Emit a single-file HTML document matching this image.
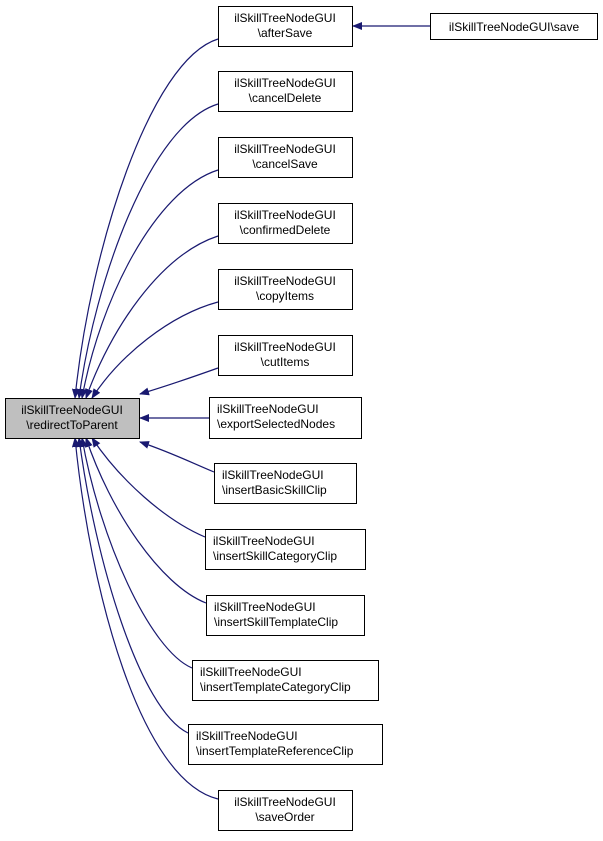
<!DOCTYPE html>
<html><head><meta charset="utf-8"><style>
html,body{margin:0;padding:0;background:#fff;}
svg text{font-family:"Liberation Sans",sans-serif;font-size:12px;fill:#000;}
</style></head><body>
<svg width="603" height="836" viewBox="0 0 603 836" xmlns="http://www.w3.org/2000/svg">
<defs>
<marker id="a" markerWidth="10" markerHeight="8" refX="9" refY="4" orient="auto" markerUnits="userSpaceOnUse">
<path d="M0,0 L10,4 L0,8 Z" fill="#191970"/></marker>
</defs>
<g fill="none" stroke="#191970" stroke-width="1.2" marker-end="url(#a)">
<path d="M430,26 L353,26"/>
<path d="M218,39 C150,60 90,250 75,398"/>
<path d="M218,104 C150,125 95,280 79,398"/>
<path d="M218,170 C155,190 100,300 82,398"/>
<path d="M218,236 C160,255 110,330 86,398"/>
<path d="M218,302 C170,315 120,355 92,398"/>
<path d="M218,368 C190,378 170,385 140,394"/>
<path d="M209,418 L140,418"/>
<path d="M214,472 C190,462 170,452 140,442"/>
<path d="M205,537 C165,520 120,480 92,438"/>
<path d="M206,603 C160,585 110,510 86,438"/>
<path d="M192,668 C150,650 100,540 82,438"/>
<path d="M188,733 C140,710 95,560 79,438"/>
<path d="M218,799 C140,780 90,590 75,438"/>
</g>
<g stroke="#000" stroke-width="1" fill="#fff">
<rect x="5.5" y="398.5" width="134" height="40" fill="#bfbfbf"/>
<rect x="430.5" y="13.5" width="167" height="26"/>
<rect x="218.5" y="6.5" width="134" height="40"/>
<rect x="218.5" y="71.5" width="134" height="40"/>
<rect x="218.5" y="137.5" width="134" height="40"/>
<rect x="218.5" y="203.5" width="134" height="40"/>
<rect x="218.5" y="269.5" width="134" height="40"/>
<rect x="218.5" y="335.5" width="134" height="40"/>
<rect x="209.5" y="397.5" width="152" height="41"/>
<rect x="214.5" y="463.5" width="142" height="40"/>
<rect x="205.5" y="529.5" width="160" height="40"/>
<rect x="206.5" y="595.5" width="158" height="40"/>
<rect x="192.5" y="660.5" width="186" height="40"/>
<rect x="188.5" y="724.5" width="194" height="40"/>
<rect x="218.5" y="790.5" width="134" height="40"/>
</g>
<text x="72" y="414" text-anchor="middle">ilSkillTreeNodeGUI</text>
<text x="72" y="429" text-anchor="middle">\redirectToParent</text>
<text x="514" y="31" text-anchor="middle">ilSkillTreeNodeGUI\save</text>
<g text-anchor="middle">
<text x="285" y="22">ilSkillTreeNodeGUI</text><text x="285" y="37">\afterSave</text>
<text x="285" y="87">ilSkillTreeNodeGUI</text><text x="285" y="102">\cancelDelete</text>
<text x="285" y="153">ilSkillTreeNodeGUI</text><text x="285" y="168">\cancelSave</text>
<text x="285" y="219">ilSkillTreeNodeGUI</text><text x="285" y="234">\confirmedDelete</text>
<text x="285" y="285">ilSkillTreeNodeGUI</text><text x="285" y="300">\copyItems</text>
<text x="285" y="351">ilSkillTreeNodeGUI</text><text x="285" y="366">\cutItems</text>
<text x="285" y="806">ilSkillTreeNodeGUI</text><text x="285" y="821">\saveOrder</text>
</g>
<text x="217" y="413">ilSkillTreeNodeGUI</text><text x="217" y="428">\exportSelectedNodes</text>
<text x="222" y="479">ilSkillTreeNodeGUI</text><text x="222" y="494">\insertBasicSkillClip</text>
<text x="213" y="545">ilSkillTreeNodeGUI</text><text x="213" y="560">\insertSkillCategoryClip</text>
<text x="214" y="611">ilSkillTreeNodeGUI</text><text x="214" y="626">\insertSkillTemplateClip</text>
<text x="200" y="676">ilSkillTreeNodeGUI</text><text x="200" y="691">\insertTemplateCategoryClip</text>
<text x="196" y="740">ilSkillTreeNodeGUI</text><text x="196" y="755">\insertTemplateReferenceClip</text>
</svg>
</body></html>
